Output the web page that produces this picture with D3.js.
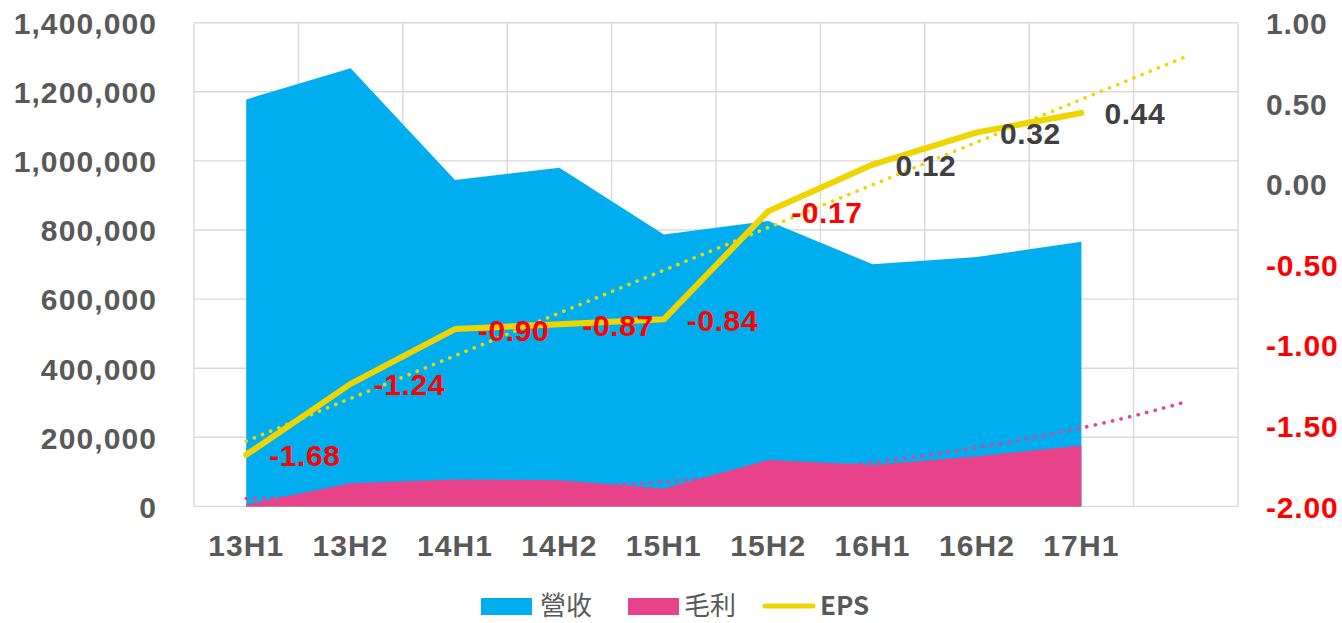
<!DOCTYPE html>
<html>
<head>
<meta charset="utf-8">
<script src="https://cdn.jsdelivr.net/npm/d3@7"></script>
<style>
  html, body { margin: 0; padding: 0; background: #ffffff; }
  svg { display: block; }
</style>
</head>
<body>
<svg id="chart" width="1342" height="623"></svg>
<script>
// ---- data ----
const categories = ["13H1", "13H2", "14H1", "14H2", "15H1", "15H2", "16H1", "16H2", "17H1"];
const revenue = [1178000, 1268000, 945000, 980000, 787000, 826000, 701000, 722000, 766000];
const grossProfit = [6000, 67000, 78000, 76000, 52000, 134000, 120000, 145000, 176000];
const eps = [-1.68, -1.24, -0.90, -0.87, -0.84, -0.17, 0.12, 0.32, 0.44];
const leftTicks = [0, 200000, 400000, 600000, 800000, 1000000, 1200000, 1400000];
const rightTicks = [-2.0, -1.5, -1.0, -0.5, 0.0, 0.5, 1.0];
const legendItems = [
  { key: "rev", label: "營收" },
  { key: "gp", label: "毛利" },
  { key: "eps", label: "EPS" }
];

// ---- style ----
const C = {
  rev: "#00AEEF", gp: "#E8438A", eps: "#EFD500",
  grid: "#D9D9D9", axis: "#595959", neg: "#FF0000", pos: "#404040"
};
const NUMFONT = "'Liberation Sans', Arial, sans-serif";
const CJKFONT = "'Noto Sans CJK TC', 'Noto Sans CJK SC', sans-serif";

const svg = d3.select("#chart");
const plot = { left: 194, right: 1238, top: 22.7, bottom: 506.4 };

// x axis has one forecast slot beyond the last category (trendline forward 1 period)
const xDomain = categories.map((c, i) => i).concat([categories.length]);
const x = d3.scaleBand().domain(xDomain).range([plot.left, plot.right]).paddingInner(0).paddingOuter(0);
const cx = i => x(i) + x.bandwidth() / 2;
const yL = d3.scaleLinear().domain([0, 1400000]).range([plot.bottom, plot.top]);
const yR = d3.scaleLinear().domain([-2, 1]).range([plot.bottom, plot.top]);

// ---- gridlines ----
const g = svg.append("g");
g.selectAll("line.h").data(leftTicks).join("line")
  .attr("x1", plot.left).attr("x2", plot.right)
  .attr("y1", d => yL(d)).attr("y2", d => yL(d))
  .attr("stroke", C.grid).attr("stroke-width", 1.4);
const vBounds = xDomain.map(d => x(d)).concat([plot.right]);
g.selectAll("line.v").data(vBounds).join("line")
  .attr("x1", d => d).attr("x2", d => d)
  .attr("y1", plot.top).attr("y2", plot.bottom)
  .attr("stroke", C.grid).attr("stroke-width", 1.4);

// ---- areas ----
const areaL = d3.area().x((d, i) => cx(i)).y0(yL(0)).y1(d => yL(d));
svg.append("path").datum(revenue).attr("d", areaL).attr("fill", C.rev);
svg.append("path").datum(grossProfit).attr("d", areaL).attr("fill", C.gp);

// ---- trendlines ----
function linFit(vals) {
  const xs = vals.map((v, i) => i + 1);
  const mx = d3.mean(xs), my = d3.mean(vals);
  const sxy = d3.sum(xs, (xx, i) => (xx - mx) * (vals[i] - my));
  const sxx = d3.sum(xs, xx => (xx - mx) * (xx - mx));
  const b = sxy / sxx, a = my - b * mx;
  return t => a + b * t;
}
function expFit(vals) {
  const f = linFit(vals.map(Math.log));
  return t => Math.exp(f(t));
}
const nT = categories.length + 1;
const fGP = expFit(grossProfit);
const fEPS = linFit(eps);
const dotted = (sel, color) => sel.attr("fill", "none").attr("stroke", color)
  .attr("stroke-width", 3.6).attr("stroke-linecap", "round").attr("stroke-dasharray", "0.1 8.7");
const gpTrend = d3.range(0, nT - 1 + 0.001, 0.1);
svg.append("path").datum(gpTrend)
  .attr("d", d3.line().x(t => plot.left + x.bandwidth() / 2 + t * x.bandwidth()).y(t => yL(fGP(t + 1))))
  .call(dotted, C.gp);
svg.append("path").datum([0, nT - 1])
  .attr("d", d3.line().x(t => cx(t)).y(t => yR(fEPS(t + 1))))
  .call(dotted, C.eps);

// ---- EPS line ----
svg.append("path").datum(eps)
  .attr("d", d3.line().x((d, i) => cx(i)).y(d => yR(d)))
  .attr("fill", "none").attr("stroke", C.eps).attr("stroke-width", 6)
  .attr("stroke-linecap", "round").attr("stroke-linejoin", "round");

// ---- EPS data labels ----
svg.append("g").selectAll("text").data(eps).join("text")
  .attr("x", (d, i) => cx(i) + 23).attr("y", d => yR(d) + 1)
  .attr("dominant-baseline", "central")
  .attr("font-family", NUMFONT).attr("font-weight", "bold").attr("font-size", 30)
  .attr("letter-spacing", 0.6)
  .attr("fill", d => d < 0 ? C.neg : C.pos)
  .text(d => d.toFixed(2));

// ---- axes ----
const axL = svg.append("g").attr("transform", `translate(157,0)`)
  .call(d3.axisLeft(yL).tickValues(leftTicks).tickSize(0).tickPadding(0).tickFormat(d3.format(",")));
axL.select(".domain").remove();
axL.selectAll("text").attr("font-family", NUMFONT).attr("font-weight", "bold")
  .attr("font-size", 30).attr("letter-spacing", 1.1).attr("fill", C.axis)
  .attr("dy", "0.36em");

const axR = svg.append("g").attr("transform", `translate(1266,0)`)
  .call(d3.axisRight(yR).tickValues(rightTicks).tickSize(0).tickPadding(0).tickFormat(d => d.toFixed(2)));
axR.select(".domain").remove();
axR.selectAll("text").attr("font-family", NUMFONT).attr("font-weight", "bold")
  .attr("font-size", 30).attr("letter-spacing", 0.8)
  .attr("fill", d => d < 0 ? C.neg : C.axis).attr("dy", "0.36em");

const axB = svg.append("g").attr("transform", `translate(0,${plot.bottom})`)
  .call(d3.axisBottom(x).tickSize(0).tickPadding(0).tickFormat(i => categories[i] || ""));
axB.select(".domain").remove();
axB.selectAll("text").attr("font-family", NUMFONT).attr("font-weight", "bold")
  .attr("font-size", 30).attr("letter-spacing", 1.1).attr("fill", C.axis)
  .attr("y", 39).attr("dy", "0.36em");

// ---- legend ----
const lg = svg.append("g");
const legendPos = [
  { sx: 481, tx: 540 },
  { sx: 628, tx: 684 },
  { sx: 763, tx: 820 }
];
legendItems.forEach((it, i) => {
  const p = legendPos[i];
  if (it.key === "eps") {
    lg.append("line").attr("x1", p.sx + 2).attr("x2", p.sx + 50).attr("y1", 606).attr("y2", 606)
      .attr("stroke", C.eps).attr("stroke-width", 5).attr("stroke-linecap", "round");
  } else {
    lg.append("rect").attr("x", p.sx).attr("y", 598).attr("width", 51).attr("height", 17)
      .attr("fill", C[it.key]);
  }
  lg.append("text").attr("x", p.tx).attr("y", 615)
    .attr("font-family", CJKFONT).attr("font-size", 26)
    .attr("font-weight", it.key === "eps" ? "bold" : "normal")
    .attr("fill", C.axis).text(it.label);
});
</script>
</body>
</html>
